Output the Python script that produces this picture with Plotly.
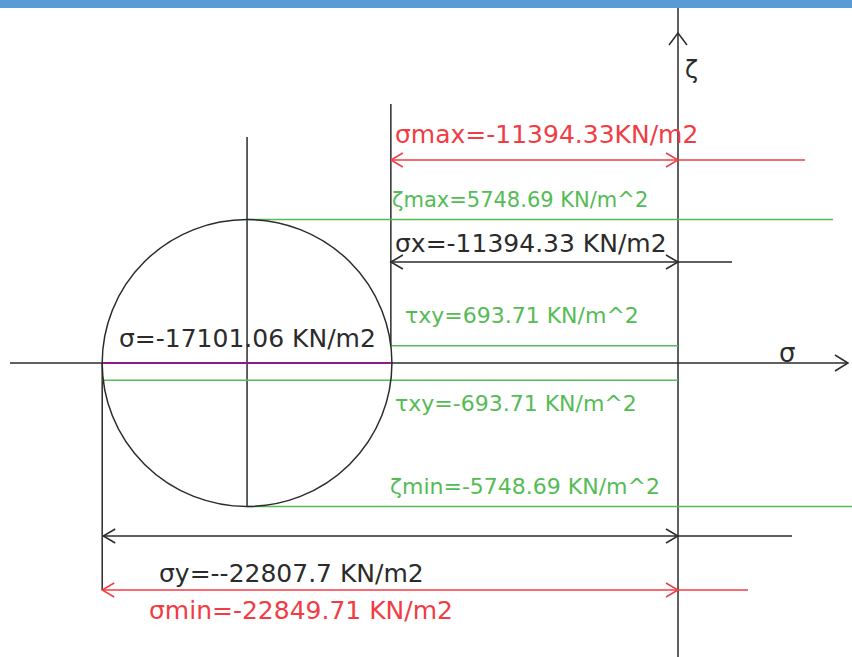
import plotly.graph_objects as go

# ---- data (stress values, KN/m2) ----
sigma_x = -11394.33
sigma_y = -22807.7
sigma_avg = -17101.06
radius = 5748.69
tau_xy = 693.71
sigma_max = -11394.33
sigma_min = -22849.71

label_sigma_max = "σmax=-11394.33KN/m2"
label_tau_max = "ζmax=5748.69 KN/m^2"
label_sigma_x = "σx=-11394.33 KN/m2"
label_tau_pos = "τxy=693.71 KN/m^2"
label_sigma_avg = "σ=-17101.06 KN/m2"
label_tau_neg = "τxy=-693.71 KN/m^2"
label_tau_min = "ζmin=-5748.69 KN/m^2"
label_sigma_y = "σy=--22807.7 KN/m2"
label_sigma_min = "σmin=-22849.71 KN/m2"

# ---- layout helpers (pixel -> data) ----
W, H = 852, 657
KX, KY = 0.0252, 0.02496
OX, OY = 678, 363


def dx(px):
    return (px - OX) / KX


def dy(py):
    return (OY - py) / KY


BLACK = "#2b2b2b"
RED = "#f23c44"
GREEN = "#55bb55"
PURPLE = "#8a1c8a"
FONT = "DejaVu Sans"

fig = go.Figure()


def seg(xs, ys, color, width=1.5):
    fig.add_trace(go.Scatter(x=xs, y=ys, mode="lines",
                             line=dict(color=color, width=width),
                             hoverinfo="skip", showlegend=False))


def chevron(x, y, direction, color, arm_len=12, arm_h=7):
    if direction == "left":
        xs = [x + arm_len / KX, x, x + arm_len / KX]
        ys = [y + arm_h / KY, y, y - arm_h / KY]
    elif direction == "right":
        xs = [x - arm_len / KX, x, x - arm_len / KX]
        ys = [y + arm_h / KY, y, y - arm_h / KY]
    else:
        xs = [x - arm_h / KX, x, x + arm_h / KX]
        ys = [y - arm_len / KY, y, y - arm_len / KY]
    seg(xs, ys, color)


def dim_arrow(x_start, row_py, ext_px, color):
    yv = dy(row_py)
    seg([x_start, dx(ext_px)], [yv, yv], color)
    chevron(x_start, yv, "left", color)
    chevron(0, yv, "right", color)


# axes
seg([dx(10), dx(848)], [0, 0], BLACK)
chevron(dx(848), 0, "right", BLACK, arm_len=13, arm_h=8)
seg([0, 0], [dy(657), dy(0)], BLACK)
chevron(0, dy(33), "up", BLACK, arm_len=12, arm_h=9)

# circle
fig.add_shape(type="circle", xref="x", yref="y",
              x0=sigma_avg - radius, x1=sigma_avg + radius,
              y0=-radius, y1=radius,
              line=dict(color=BLACK, width=1.5))

# construction verticals
seg([sigma_avg, sigma_avg], [dy(137), -radius], BLACK)
seg([sigma_x, sigma_x], [dy(104), tau_xy], BLACK)
seg([sigma_min, sigma_min], [0, dy(590)], BLACK)

# green shear lines
seg([sigma_avg, dx(833)], [radius, radius], GREEN)
seg([sigma_avg, dx(852)], [-radius, -radius], GREEN)
seg([sigma_x, 0], [tau_xy, tau_xy], GREEN)
seg([sigma_min, 0], [-tau_xy, -tau_xy], GREEN)

# purple centre segment
seg([sigma_min, sigma_x], [0, 0], PURPLE, width=2)

# dimension arrows
dim_arrow(sigma_max, 160, 805, RED)
dim_arrow(sigma_x, 262, 732, BLACK)
dim_arrow(sigma_y, 536, 792, BLACK)
dim_arrow(sigma_min, 590, 748, RED)


def label(text, px, py, color, size):
    fig.add_annotation(x=dx(px), y=dy(py), text=text, showarrow=False,
                       xanchor="left", yanchor="middle",
                       font=dict(family=FONT, size=size, color=color))


label(label_sigma_max, 393, 134, RED, 25)
label(label_tau_max, 390, 200, GREEN, 21)
label(label_sigma_x, 393, 243, BLACK, 25)
label(label_tau_pos, 403, 315, GREEN, 22)
label(label_sigma_avg, 117, 338, BLACK, 25)
label(label_tau_neg, 393, 403, GREEN, 22)
label(label_tau_min, 388, 486, GREEN, 22)
label(label_sigma_y, 157, 573, BLACK, 25)
label(label_sigma_min, 147, 610, RED, 25)
label("ζ", 683, 70, BLACK, 24)
label("σ", 777, 353, BLACK, 26)

# top blue bar
fig.add_shape(type="rect", xref="paper", yref="paper",
              x0=0, x1=1, y0=1 - 8 / H, y1=1,
              fillcolor="#5b9bd5", line=dict(width=0), layer="above")

fig.update_layout(
    width=W, height=H,
    margin=dict(l=0, r=0, t=0, b=0),
    paper_bgcolor="white", plot_bgcolor="white",
    xaxis=dict(range=[dx(0), dx(W)], visible=False, fixedrange=True),
    yaxis=dict(range=[dy(H), dy(0)], visible=False, fixedrange=True),
    showlegend=False,
)

fig.write_html(
    "out.html",
    config={"displayModeBar": False},
    post_script="document.body.style.margin='0';document.body.style.overflow='hidden';",
)
